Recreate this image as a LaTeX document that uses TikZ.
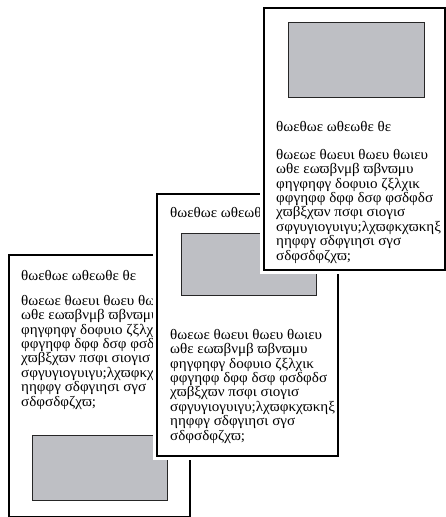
\documentclass[tikz,border=0pt]{standalone}
\usepackage{fontspec}
\setmainfont{Liberation Serif}
\newfontfamily\greekface[FakeStretch=1.04]{Liberation Serif}
\usetikzlibrary{positioning}

\definecolor{photogray}{RGB}{190,191,196}

\newcommand{\mocktitle}{θωεθωε ωθεωθε θε}
\newcommand{\mockbody}{θωεωε θωευι θωευ θωιευ\\
ωθε εωϖβνμβ ϖβνϖμυ\\
φηγφηφγ δοφυιο ζξλχικ\\
φφγηφφ δφφ δσφ φσδφδσ\\
χϖβξχϖν πσφι σιογισ\\
σφγυγιογυιγυ;λχϖφκχϖκηξ\\
ηηφφγ σδφγιησι σγσ\\
σδφσδφζχϖ;}

\begin{document}
\begin{tikzpicture}[
    x=1pt, y=-1pt,
    page/.style={ % one sheet, white halo round it
        rectangle,
        draw,
        line width=1.6pt,
        fill=white,
        preaction={draw=white, line width=7.6pt},
        minimum width=181pt,
        minimum height=262pt,
        inner sep=0pt,
        anchor=north west
    },
    photo/.style={
        rectangle,
        draw=black!85,
        line width=1.1pt,
        fill=photogray,
        inner sep=0pt,
        anchor=north west
    },
    caption/.style={
        inner sep=0pt,
        anchor=base west,
        font=\greekface\fontsize{14.5}{14.4}\selectfont
    },
    bodytext/.style={ % base = last line
        inner sep=0pt,
        anchor=base west,
        align=left,
        font=\greekface\fontsize{14.5}{14.4}\selectfont
    }
]
    \useasboundingbox (0,0) rectangle (445,517);

    % Bottom sheet
    \node[page] (sheet3) at (8,254) {};
    \node[caption] (title3) at (21,280) {\mocktitle};
    \node[bodytext] (body3) at (21,406) {\mockbody};
    \node[photo, minimum width=135pt, minimum height=65pt] (photo3) at (32,435) {};

    % Middle sheet
    \node[page] (sheet2) at (156,193) {};
    \node[caption] (title2) at (170,217) {\mocktitle};
    \node[photo, minimum width=135pt, minimum height=62pt] (photo2) at (181,233) {};
    \node[bodytext] (body2) at (170,440) {\mockbody};

    % Top sheet
    \node[page] (sheet1) at (263,7) {};
    \node[photo, minimum width=136pt, minimum height=75pt] (photo1) at (288,22) {};
    \node[caption] (title1) at (276,131) {\mocktitle};
    \node[bodytext] (body1) at (276,260) {\mockbody};
\end{tikzpicture}
\end{document}
